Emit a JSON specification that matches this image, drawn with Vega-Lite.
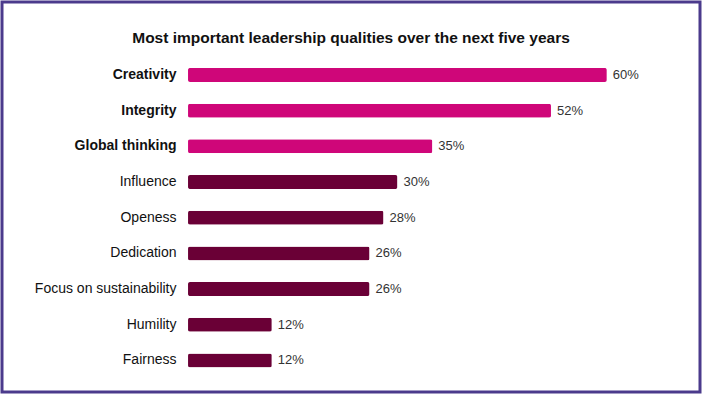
{
  "$schema": "https://vega.github.io/schema/vega-lite/v6.json",
  "width": 704,
  "height": 396,
  "autosize": {"type": "fit", "contains": "padding"},
  "padding": {"left": 2, "top": 2, "right": 4, "bottom": 4},
  "background": "white",
  "config": {
    "view": {"stroke": "#4b3a8c", "strokeWidth": 3},
    "font": "Liberation Sans"
  },
  "title": {
    "text": "Most important leadership qualities over the next five years",
    "font": "Liberation Sans",
    "fontSize": 15.5,
    "fontWeight": "bold",
    "color": "#111111",
    "anchor": "middle",
    "offset": -44
  },
  "data": {
    "values": [
      {"quality": "Creativity", "value": 0.60, "group": "top"},
      {"quality": "Integrity", "value": 0.52, "group": "top"},
      {"quality": "Global thinking", "value": 0.35, "group": "top"},
      {"quality": "Influence", "value": 0.30, "group": "other"},
      {"quality": "Openess", "value": 0.28, "group": "other"},
      {"quality": "Dedication", "value": 0.26, "group": "other"},
      {"quality": "Focus on sustainability", "value": 0.26, "group": "other"},
      {"quality": "Humility", "value": 0.12, "group": "other"},
      {"quality": "Fairness", "value": 0.12, "group": "other"}
    ]
  },
  "encoding": {
    "y": {
      "field": "quality",
      "type": "nominal",
      "sort": null,
      "scale": {"paddingInner": 0.07, "paddingOuter": 1, "align": 0.79},
      "axis": {
        "title": null,
        "ticks": false,
        "domain": false,
        "labelPadding": 0,
        "offset": -174,
        "labelFont": "Liberation Sans",
        "labelFontSize": 14,
        "labelColor": "#111111",
        "labelFontWeight": {
          "condition": {"test": "indexof(['Creativity','Integrity','Global thinking'], datum.value) >= 0", "value": "bold"},
          "value": "normal"
        }
      }
    },
    "x": {
      "field": "value",
      "type": "quantitative",
      "scale": {"domain": [-0.2665, 0.7335], "zero": false, "nice": false},
      "axis": null
    }
  },
  "layer": [
    {
      "mark": {"type": "bar", "cornerRadius": 2, "size": 14},
      "encoding": {
        "color": {
          "field": "group",
          "type": "nominal",
          "scale": {"domain": ["top", "other"], "range": ["#cf0679", "#6a0036"]},
          "legend": null
        }
      }
    },
    {
      "mark": {"type": "text", "align": "left", "baseline": "middle", "dx": 6, "fontSize": 13, "font": "Liberation Sans", "color": "#333333"},
      "encoding": {
        "text": {"field": "value", "type": "quantitative", "format": ".0%"},
        "detail": {"field": "quality"}
      }
    }
  ]
}
